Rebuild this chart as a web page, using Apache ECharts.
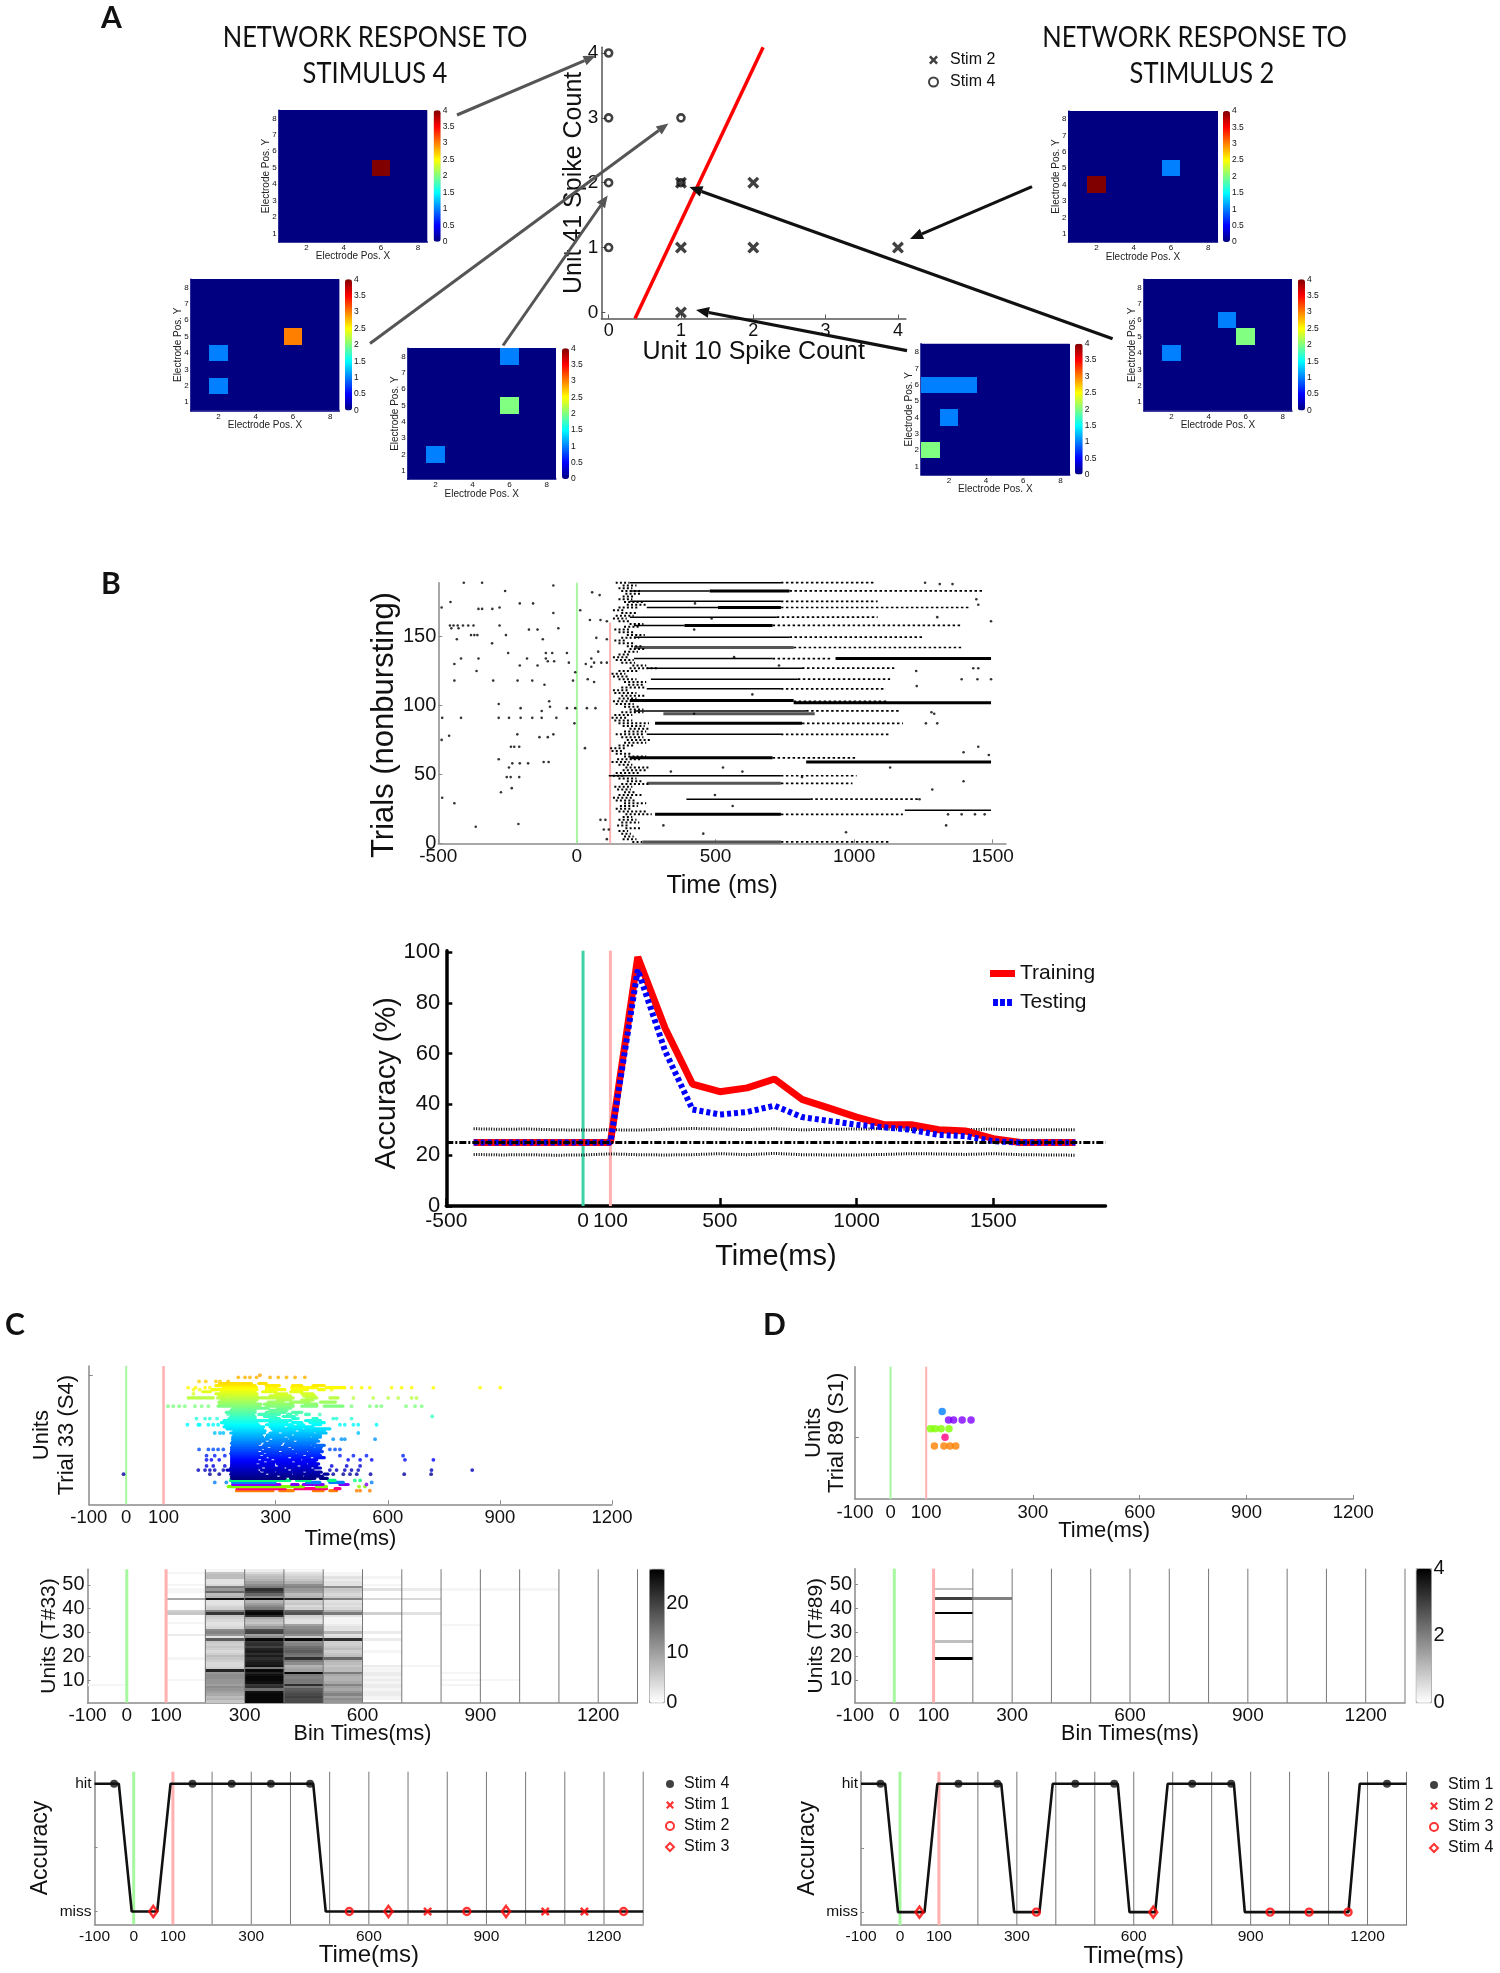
<!DOCTYPE html>
<html><head><meta charset="utf-8">
<script src="https://cdn.jsdelivr.net/npm/echarts@6/dist/echarts.min.js"></script>
<style>html,body{margin:0;padding:0;background:#fff}#c{width:1500px;height:1973px}</style>
</head><body><div id="c"></div>
<script>
// ---------- Panel A data ----------
const scatterStim2 = [[1,2],[2,2],[1,1],[2,1],[4,1],[1,0]];
const scatterStim4 = [[0,4],[0,3],[0,2],[0,1],[1,3],[1,2]];
const boundaryLine = [[0.365,-0.094],[2.136,4.088]];
const heatRows = [8,7,6,5,4,3,2,1];
const hmStim4a = [[0,0,0,0,0,0,0,0],[0,0,0,0,0,0,0,0],[0,0,0,0,0,0,0,0],[0,0,0,0,0,4,0,0],[0,0,0,0,0,0,0,0],[0,0,0,0,0,0,0,0],[0,0,0,0,0,0,0,0],[0,0,0,0,0,0,0,0]];
const hmStim4b = [[0,0,0,0,0,0,0,0],[0,0,0,0,0,0,0,0],[0,0,0,0,0,0,0,0],[0,0,0,0,0,3,0,0],[0,1,0,0,0,0,0,0],[0,0,0,0,0,0,0,0],[0,1,0,0,0,0,0,0],[0,0,0,0,0,0,0,0]];
const hmStim4c = [[0,0,0,0,0,1,0,0],[0,0,0,0,0,0,0,0],[0,0,0,0,0,0,0,0],[0,0,0,0,0,2,0,0],[0,0,0,0,0,0,0,0],[0,0,0,0,0,0,0,0],[0,1,0,0,0,0,0,0],[0,0,0,0,0,0,0,0]];
const hmStim2a = [[0,0,0,0,0,0,0,0],[0,0,0,0,0,0,0,0],[0,0,0,0,0,0,0,0],[0,0,0,0,0,1,0,0],[0,4,0,0,0,0,0,0],[0,0,0,0,0,0,0,0],[0,0,0,0,0,0,0,0],[0,0,0,0,0,0,0,0]];
const hmStim2b = [[0,0,0,0,0,0,0,0],[0,0,0,0,0,0,0,0],[0,0,0,0,1,0,0,0],[0,0,0,0,0,2,0,0],[0,1,0,0,0,0,0,0],[0,0,0,0,0,0,0,0],[0,0,0,0,0,0,0,0],[0,0,0,0,0,0,0,0]];
const hmStim2c = [[0,0,0,0,0,0,0,0],[0,0,0,0,0,0,0,0],[1,1,1,0,0,0,0,0],[0,0,0,0,0,0,0,0],[0,1,0,0,0,0,0,0],[0,0,0,0,0,0,0,0],[2,0,0,0,0,0,0,0],[0,0,0,0,0,0,0,0]];
const colorbarTicks = [0,0.5,1,1.5,2,2.5,3,3.5,4];

// ---------- Panel B raster ----------
const rasterBSparse = [[-408,189],[-342,189],[-85,187],[-259,183],[55,182],[82,180],[-456,175],[-206,174],[-158,174],[-488,171],[-355,170],[-342,170],[-305,170],[-279,171],[12,169],[-85,167],[47,162],[85,162],[108,161],[-458,158],[-445,158],[-430,158],[-411,158],[-392,158],[-373,158],[-279,158],[-453,156],[-427,156],[-67,156],[-173,155],[-142,155],[-382,151],[-370,151],[-359,151],[-256,151],[-433,148],[-123,148],[108,148],[70,149],[-306,145],[-248,138],[77,139],[-112,138],[-89,138],[-36,138],[-418,134],[-355,134],[-180,134],[-112,134],[52,134],[-105,132],[-82,132],[-442,130],[-206,129],[-142,129],[-29,131],[32,130],[62,131],[88,131],[108,131],[-362,125],[-6,124],[52,128],[-442,118],[-302,118],[-214,118],[-161,118],[-14,118],[39,119],[62,117],[-117,115],[-282,101],[-100,103],[-97,99],[-203,98],[-36,98],[-6,98],[36,98],[67,98],[-127,96],[-486,91],[-418,91],[-282,91],[-245,91],[-203,91],[-161,91],[-127,91],[-74,91],[-9,87],[-461,78],[-488,75],[-215,79],[-135,77],[-105,77],[-85,79],[-238,70],[-226,70],[-208,70],[29,69],[-282,61],[-233,58],[-206,58],[-176,58],[-120,59],[-102,59],[-245,55],[-253,48],[-239,48],[-208,48],[-235,40],[-274,37],[-486,33],[-442,29],[-211,14],[-365,12],[85,17],[103,17],[97,10],[115,10],[108,3],
[1256,189],[1309,188],[1355,188],[1448,173],[1441,177],[1494,161],[1300,164],[567,135],[729,129],[1224,125],[1430,127],[1448,127],[1388,119],[1445,119],[1494,119],[1226,114],[633,108],[423,94],[1279,95],[1289,94],[1259,87],[1300,87],[1448,70],[1395,66],[1486,64],[1130,55],[527,55],[597,52],[339,52],[1395,45],[1282,39],[498,35],[1236,32],[562,27],[1339,21],[1388,21],[1436,21],[1471,21],[1332,13],[971,8],[456,7],[312,13],[426,174],[486,163],[423,155],[812,48]];
const rasterBThin = [[189,191,736],[183,191,479],[175.5,191,736],[171,252,509],[164,191,721],[158,206,388],[149.5,206,767],[134,206,706],[127,252,812],[119,267,797],[112,252,736],[96,206,827],[79,252,736],[49,115,736],[32,395,842],[24,1183,1494]];
const rasterBThick = [[183,479,767],[171,509,736],[158,388,706],[134,933,1494],[103.5,191,782],[102,782,1494],[87,282,812],[62,191,706],[59,827,1494],[21,282,736]];
const rasterBGray = [[142,206,782],[94,312,858],[43.5,252,736],[1,236,736]];
const rasterBDotted = [[189,736,1070],[183,767,1464],[175.5,736,1085],[171,736,1418],[164,721,1085],[158,706,1388],[149.5,767,1252],[142,782,1388],[134,706,918],[127,812,1145],[119,797,1130],[112,736,1115],[103,782,1120],[96,827,1161],[87,812,1176],[79,736,1130],[62,706,1009],[49,736,1009],[43.5,736,994],[32,842,1236],[21,736,1176],[1,736,1130]];
const rasterBOnset = [[1,200,235],[3,165,215],[5,170,205],[7,160,195],[9,150,185],[11,175,230],[13,145,190],[15,160,225],[17,150,215],[19,165,200],[21,175,270],[23,150,250],[25,140,195],[27,155,220],[29,170,250],[31,140,210],[33,130,205],[35,150,235],[37,170,215],[39,145,195],[41,135,200],[43,160,260],[45,180,235],[47,150,215],[49,130,175],[51,140,225],[53,165,250],[55,175,260],[57,150,200],[59,125,190],[61,145,230],[63,170,250],[65,140,200],[67,125,170],[69,120,180],[71,150,210],[73,170,250],[75,180,265],[77,160,240],[79,140,240],[81,170,250],[83,190,260],[85,165,245],[87,150,260],[89,135,200],[91,125,185],[93,135,200],[95,160,240],[97,190,240],[99,170,230],[101,140,205],[103,130,195],[105,150,215],[107,160,250],[109,135,215],[111,130,190],[113,160,250],[115,185,245],[117,170,250],[119,150,215],[121,130,190],[123,125,175],[125,150,225],[127,190,290],[129,200,250],[131,160,210],[133,140,205],[135,130,190],[137,150,190],[139,170,220],[141,190,250],[143,180,235],[145,150,205],[147,135,180],[149,160,225],[151,180,245],[153,150,205],[155,135,195],[157,170,230],[159,190,240],[161,150,190],[163,130,180],[165,140,205],[167,160,220],[169,130,175],[171,150,225],[173,180,250],[175,170,240],[177,150,200],[179,165,210],[181,175,235],[183,160,230],[185,150,200],[187,165,215],[189,140,190]];

// ---------- Panel B accuracy ----------
const accTimes = [-400,-300,-200,-100,0,100,200,300,400,500,600,700,800,900,1000,1100,1200,1300,1400,1500,1600,1700,1800];
const accTraining = [25,25,25,25,25,25,98,70,48,45,46.5,50,42,38.5,35,32,32,30,29.5,26.5,25,25,25];
const accTesting = [25,25,25,25,25,25,93,61,38,36,37,39.5,35,33.5,32,31,30,28,27.5,25.5,25,25,25];
const accUpper = [30.4,30.2,30.3,30,29.9,30,29.9,30.2,30.5,30.3,30.1,30.4,30,30.2,30.3,30.4,30.1,30,30.1,30.2,30,30,30];
const accLower = [20.3,20.1,20.2,20,20.1,20.5,20.2,20.1,20.2,20.6,20.2,20.7,20.2,20.1,20.1,20.3,20.6,20.5,20.3,20.6,20.2,20.1,20];
const chanceEnds = [[-500,25],[1910,25]];

// ---------- Panels C/D rasters (x is the position on the drawn axis) ----------
const rasterTickPos = [-100,0,100,400,700,1000,1300];
const rasterTickText = ['-100','0','100','300','600','900','1200'];
const binTickVals = [-100,0,100,300,600,900,1200];
const rasterCRows = [
[1,295,393,411,447,501,527,545,563],[2,297,425,452,483,487,536,559,572],[3,273,443,447,474,509,536],[4,285,411,443,460,474,527,572,594],[5,285,398,483,518,545,581],[6,279,438,456,492,541,559],
[7,282,425,440,505,520,538],[8,282,400,415,470,480,525],[9,280,370,385,440,450,515,530,540],[10,282,355,372,395,405,470,485,522],[11,270,350,362,430,445,500],[12,280,360,375,420,432,492,505,520],[13,282,395,410,455,470,510],[14,282,345,360,395,405,480,490,515],[15,282,365,380,440,455,505],[16,282,350,365,385,400,465,475,510],[17,282,372,385,430,445,490,505,530],[18,282,355,370,410,418,470,485,520],[19,280,365,378,450,460,515],[20,282,350,365,405,420,480,490,525],[21,282,360,372,440,452,520],[22,282,375,390,430,445,500,510,522],[23,285,350,368,410,425,490,500,530],[24,282,358,372,415,428,505],[25,285,370,385,445,460,515],[26,285,380,395,430,440,510],[27,285,365,375,420,435,490,500,520],[28,288,362,378,440,452,520],[29,280,370,385,405,420,500,510,535],[30,288,372,395,450,465,530],[31,270,365,390,470,480,545],[32,262,368,385,420,435,500],[33,265,355,375,445,460,475,500,520],[34,255,350,385,430,445,470,492,530],[35,262,340,345,398,405,440,480,520],[36,275,345,385,410,447,455,501,510],[37,280,345,370,400,420,450],[38,282,340,355,410,432,440,480,490],[39,268,345,375,425,445,470],[40,280,345,385,430],[41,285,345,350,380,405,440],[42,246,358,375,447,470,510,530,580],[43,250,360,370,445,480,510],[44,248,345,380,420,440,490,520,560],[45,255,350,405,440,470,500],[46,166,233,245,268,277,447,482,510,545,567],[47,250,350,385,440,475,505],[48,240,350,400,430,470,500],[49,205,225,255,345,365,400,440,470],[50,230,350,375,425,445,485,515,530],[51,260,349,376,403,443,456,465,510,536,585],[52,240,345,375,410,445,470,500,530],[53,250,335,355,375]];
const rasterCSparse = [[358,57],[300,56],[318,56],[331,56],[349,56],[385,56],[407,56],[429,56],[452,56],[478,56],[195,54],[213,54],[240,54],[251,54],[273,54],[166,51],[186,51],[211,51],[224,51],[603,51],[630,51],[652,51],[710,51],[737,51],[764,51],[822,51],[947,51],[1001,51],[180,50],[197,50],[233,50],[550,50],[608,46],[661,46],[701,46],[728,46],[764,46],[777,46],[180,48],[112,42],[126,42],[142,42],[157,42],[184,42],[202,42],[220,42],[603,42],[652,42],[670,42],[683,42],[749,42],[773,42],[791,42],[273,38],[518,38],[483,38],[456,38],[434,38],[819,37],[188,36],[211,36],[224,36],[243,36],[447,36],[460,36],[501,36],[510,36],[554,36],[563,36],[603,36],[164,33],[193,33],[197,33],[220,33],[233,33],[246,33],[572,33],[585,33],[608,33],[621,33],[670,33],[237,29],[251,29],[260,29],[621,29],[554,26],[576,26],[585,26],[666,26],[195,21],[220,21],[233,21],[246,21],[260,21],[545,21],[559,21],[572,21],[643,18],[741,18],[215,18],[237,18],[264,18],[572,18],[608,18],[215,16],[228,16],[249,16],[746,16],[594,16],[626,16],[657,16],[822,16],[215,13],[233,13],[264,13],[550,13],[590,13],[626,13],[193,11],[211,11],[224,11],[237,11],[260,11],[545,11],[563,11],[585,11],[603,11],[621,11],[817,11],[926,11],[224,9],[249,9],[554,9],[581,9],[599,9],[617,9],[654,9],[744,9],[816,9],[-7,9],[617,1],[626,1],[652,1],[623,3],[639,3],[643,4],[237,5],[268,5],[657,5],[612,6],[626,6]];
const rasterDPoints = [[145,5],[163,4],[177,4],[201,4],[226,4],[112,3],[125,3],[142,3],[164,3],[153,2],[123,1],[150,1],[167,1],[183,1]];
const bottomRowColors = {1:'#ff8000',2:'#ff0080',3:'#80ff00',4:'#8000ff',5:'#0080ff',6:'#00ff80'};
const rasterDRowColors = {1:'#ff8000',2:'#ff0080',3:'#80ff00',4:'#8000ff',5:'#0080ff'};

// ---------- Panels C/D binned counts ----------
const binStartsDense = [200,300,400,500];
const heatCBin200 = [6,8,7,9,10,11,12,10,11,11,12,12,11,23,5,4,4,5,6,7,5,4,5,6,5,6,17,3,11,13,12,4,3,3,4,5,6,21,13,5,4,3,3,25,8,7,16,11,14,4,3,3,7,7,6,1];
const heatCBin300 = [26,26,26,26,25,15,22,21,25,26,26,25,23,26,14,25,24,23,22,24,22,24,23,20,22,21,26,12,10,20,19,11,8,6,7,9,22,26,24,14,12,10,8,26,12,16,20,22,14,12,10,8,7,6,4,2];
const heatCBin400 = [19,19,20,19,18,17,14,22,14,14,13,14,26,10,9,8,12,14,22,14,15,17,16,15,13,12,26,6,12,14,13,12,10,3,3,4,5,18,16,5,4,6,5,22,8,7,10,11,13,12,8,6,5,4,3,1];
const heatCBin500 = [11,12,10,13,11,9,10,13,9,8,8,9,14,7,7,6,7,8,16,7,6,5,7,6,5,5,22,4,3,8,3,3,2,1,1,1,3,14,8,4,3,4,3,13,5,4,5,6,12,3,3,2,3,1,1,0];
const heatCSparse = [[-100,8,1],[100,44,9],[100,38,6],[100,39,5],[100,48,1],[100,47,1],[100,29,2],[100,34,1],[100,19,1],[100,10,1],[100,55,1],[100,50,1],[600,2,1],[600,3,1],[600,4,2],[600,5,2],[600,6,1],[600,7,2],[600,8,2],[600,9,1],[600,10,2],[600,11,1],[600,12,2],[600,13,2],[600,14,1],[600,15,1],[600,16,2],[600,22,1],[600,27,2],[600,30,2],[600,38,5],[600,44,4],[600,48,3],[600,50,1],[600,53,1],[700,44,4],[700,38,3],[700,48,2],[700,16,1],[800,33,1],[800,13,1],[800,10,1],[800,8,1],[800,48,1],[900,10,1],[900,48,1],[1000,48,1]];
const heatDCells = [[100,48,1],[100,44,3],[200,44,2],[100,38,4],[100,26,1],[100,19,4]];
const binEdges = [200,300,400,500,600,700,800,900,1000,1100,1200,1300];

// ---------- Panels C/D trial decoding ----------
const pathC = [[-100,1],[-38,1],[-5,0],[60,0],[94,1],[458,1],[490,0],[1300,0]];
const cStim4 = [[-50,1],[150,1],[250,1],[350,1],[450,1]];
const cStim1 = [[750,0],[1050,0],[1150,0]];
const cStim2 = [[550,0],[850,0],[1250,0]];
const cStim3 = [[50,0],[650,0],[950,0]];
const pathD = [[-100,1],[-38,1],[-5,0],[63,0],[96,1],[260,1],[293,0],[358,0],[392,1],[559,1],[589,0],[655,0],[687,1],[857,1],[885,0],[1151,0],[1180,1],[1300,1]];
const dStim1 = [[-50,1],[150,1],[250,1],[450,1],[550,1],[750,1],[850,1],[1250,1]];
const dStim2 = [];
const dStim3 = [[350,0],[950,0],[1050,0],[1150,0]];
const dStim4 = [[50,0],[650,0]];

// ---------- styling helpers ----------
const FONT='"Liberation Sans",Arial,sans-serif';
const JET=['#000080','#0000ff','#0080ff','#00ffff','#80ff80','#ffff00','#ff8000','#ff0000','#800000'];
const GREEN='#a6f7a0', PINK='#ffb0b0', GRAYAX='#8a8a8a';
const XMARK='path://M2 0L5 3L8 0L10 2L7 5L10 8L8 10L5 7L2 10L0 8L3 5L0 2Z';
function hex(c){return [1,3,5].map(i=>parseInt(c.substr(i,2),16));}
function jet(t){t=Math.max(0,Math.min(1,t))*(JET.length-1);const i=Math.min(JET.length-2,Math.floor(t)),f=t-i,a=hex(JET[i]),b=hex(JET[i+1]);return 'rgb('+a.map((v,k)=>Math.round(v+(b[k]-v)*f)).join(',')+')';}
const rowColor=r=>bottomRowColors[r]||jet((r-7)/70);

const grids=[],xAxes=[],yAxes=[],series=[],visualMaps=[],legends=[],graphics=[];
function axis(o,labelSize,color){
  const a=Object.assign({type:'value',splitLine:{show:false},nameMoveOverlap:false,axisLine:{show:true,onZero:false,lineStyle:{color:color||GRAYAX,width:1.5}},
    axisTick:{show:true,inside:true,length:4,lineStyle:{color:color||GRAYAX}},
    axisLabel:{fontFamily:FONT,fontSize:labelSize,color:'#111',margin:4,hideOverlap:false,showMinLabel:true,showMaxLabel:true,formatter:v=>String(v)},
    nameLocation:'middle',nameTextStyle:{fontFamily:FONT,color:'#111'}},o);
  return a;
}
function withTicks(a,vals,fmt){
  a.axisTick.customValues=vals;a.axisLabel.customValues=vals;
  if(fmt)a.axisLabel.formatter=fmt;return a;
}
function addGrid(l,t,r,b,x,y,extra){
  const i=grids.length;
  grids.push(Object.assign({left:l,top:t,width:r-l,height:b-t,show:false,containLabel:false},extra||{}));
  x.gridIndex=i;y.gridIndex=i;xAxes.push(x);yAxes.push(y);return i;
}
function vlines(g,vals,color,width,z,topVal){
  series.push({type:'custom',xAxisIndex:g,yAxisIndex:g,silent:true,z:z,data:vals.map(v=>[v]),encode:{x:0},
    renderItem:(p,api)=>{const x=api.coord([api.value(0),0])[0],cs=p.coordSys;
      const yt=topVal!=null?api.coord([0,topVal])[1]:cs.y;
      return {type:'line',shape:{x1:x,y1:yt,x2:x,y2:cs.y+cs.height},style:{stroke:color,lineWidth:width}};}});
}
function hruns(g,rows,color,width,dash,z){
  series.push({type:'custom',xAxisIndex:g,yAxisIndex:g,silent:true,z:z||3,data:rows,encode:{x:[1,2],y:0},
    renderItem:(p,api)=>{const y=api.value(0),a=api.coord([api.value(1),y]),b=api.coord([api.value(2),y]);
      return {type:'line',shape:{x1:a[0],y1:a[1],x2:b[0],y2:b[1]},style:{stroke:color,lineWidth:width,lineDash:dash||null}};}});
}
function cells(g,data,x0,x1,z){
  series.push({type:'custom',xAxisIndex:g,yAxisIndex:g,silent:true,z:z||2,data:data,encode:{x:0,y:1},
    renderItem:(p,api)=>{const v0=api.value(0),r=api.value(1),a=api.coord([v0+x0,r+.5]),b=api.coord([v0+x1,r-.5]);
      const X=Math.round(a[0]),Y=Math.round(a[1]);
      return {type:'rect',shape:{x:X,y:Y,width:Math.round(b[0])-X,height:Math.round(b[1])-Y},style:{fill:api.visual('color')}};}});
  return series.length-1;
}
function colorbar(l,r,t,b,max,ticks,colors,seriesIndex,fs,border){
  visualMaps.push({type:'continuous',show:true,left:l,top:t,itemWidth:r-l,itemHeight:b-t,min:0,max:max,padding:0,text:null,
    calculable:false,showLabel:false,realtime:false,hoverLink:false,seriesIndex:seriesIndex,dimension:2,inRange:{color:colors}});
  const x=axis({show:false,min:0,max:1},8),y=axis({min:0,max:max,position:'right'},fs);
  y.axisLine.show=false;y.axisTick.show=false;y.axisLabel.margin=2;y.axisLabel.customValues=ticks;y.axisTick.customValues=ticks;
  addGrid(l,t,r,b,x,y,border?{show:true,borderColor:'#999',borderWidth:1,backgroundColor:'transparent'}:{});
}
function electrodeMap(l,t,r,b,cbl,cbr,matrix){
  const x=withTicks(axis({min:.5,max:8.5,name:'Electrode Pos. X',nameGap:10,nameTextStyle:{fontFamily:FONT,fontSize:10,color:'#222'}},8,'#00007f'),[2,4,6,8]);
  const y=withTicks(axis({min:.5,max:8.5,name:'Electrode Pos. Y',nameGap:7,nameTextStyle:{fontFamily:FONT,fontSize:10,color:'#222'}},8,'#00007f'),[1,2,3,4,5,6,7,8]);
  x.axisLabel.margin=2;y.axisLabel.margin=2;x.axisTick.show=false;y.axisTick.show=false;
  const g=addGrid(l,t,r,b,x,y,{show:true,backgroundColor:'#000080',borderWidth:0});
  const data=[];matrix.forEach((row,i)=>row.forEach((v,j)=>{data.push([j+1,heatRows[i],v]);}));
  const s=cells(g,data,-.5,.5,2);
  colorbar(cbl,cbr,t,b,4,colorbarTicks,JET,s,8.5,false);
}
function arrow(x1,y1,x2,y2,color,w,h){
  const d=Math.hypot(x2-x1,y2-y1),ux=(x2-x1)/d,uy=(y2-y1)/d,hl=h||12,hw=(h||12)*.42;
  const bx=x2-ux*hl,by=y2-uy*hl;
  graphics.push({type:'line',z:60,silent:true,shape:{x1:x1,y1:y1,x2:bx,y2:by},style:{stroke:color,lineWidth:w}});
  graphics.push({type:'polygon',z:60,silent:true,shape:{points:[[x2,y2],[bx-uy*hw,by+ux*hw],[bx+uy*hw,by-ux*hw]]},style:{fill:color}});
}
function text(x,y,s,font,fill,align,sy){
  graphics.push({type:'text',x:x,y:y,z:70,silent:true,scaleY:sy||1,style:{text:s,font:font,fill:fill||'#111',textAlign:align||'center',textVerticalAlign:'middle'}});
}
function stimLegend(left,top,names){
  legends.push({data:names,left:left,top:top,orient:'vertical',itemWidth:8,itemHeight:8,itemGap:5,padding:0,selectedMode:false,
    textStyle:{fontFamily:FONT,fontSize:16,color:'#111',padding:[0,0,0,5]},formatter:n=>n.trim()});
}
function marker(g,name,data,kind){
  const base={type:'scatter',name:name,xAxisIndex:g,yAxisIndex:g,data:data,z:6,silent:true};
  if(kind==='dot')Object.assign(base,{symbol:'circle',symbolSize:8,itemStyle:{color:'#111'}});
  if(kind==='x')Object.assign(base,{symbol:XMARK,symbolSize:9,itemStyle:{color:'#f00'}});
  if(kind==='o')Object.assign(base,{symbol:'circle',symbolSize:7,itemStyle:{color:'rgba(0,0,0,0)',borderColor:'#f00',borderWidth:2.4}});
  if(kind==='d')Object.assign(base,{symbol:'diamond',symbolSize:[8,11],itemStyle:{color:'rgba(0,0,0,0)',borderColor:'#f00',borderWidth:2.6}});
  series.push(base);
}

// ---------- Panel A ----------
{
  const x=withTicks(axis({min:-0.1,max:4.11,name:'Unit 10 Spike Count',nameGap:21,nameTextStyle:{fontFamily:FONT,fontSize:25,color:'#111'}},18,'#555'),[0,1,2,3,4]);
  const y=withTicks(axis({min:-0.094,max:4.088,name:'Unit 41 Spike Count',nameGap:15,nameTextStyle:{fontFamily:FONT,fontSize:25,color:'#111'}},19,'#555'),[0,1,2,3,4]);
  y.axisLabel.margin=3;x.axisLabel.margin=4;
  const g=addGrid(601.4,47.3,905.9,318.5,x,y);
  series.push({type:'line',name:'boundary',xAxisIndex:g,yAxisIndex:g,data:boundaryLine,symbol:'none',itemStyle:{color:'#f00'},lineStyle:{color:'#f00',width:3.5},z:3,silent:true});
  series.push({type:'scatter',name:'Stim 2',xAxisIndex:g,yAxisIndex:g,data:scatterStim2,symbol:XMARK,symbolSize:12,itemStyle:{color:'#111'},z:5,silent:true,clip:false});
  series.push({type:'scatter',name:'Stim 4',xAxisIndex:g,yAxisIndex:g,data:scatterStim4,symbol:'circle',symbolSize:7,itemStyle:{color:'rgba(0,0,0,0)',borderColor:'#111',borderWidth:2.6},z:5,silent:true,clip:false});
  legends.push({data:['Stim 2','Stim 4'],left:928,top:52,orient:'vertical',itemWidth:9,itemHeight:9,itemGap:6,padding:0,selectedMode:false,textStyle:{fontFamily:FONT,fontSize:16,color:'#111',padding:[0,0,0,7]}});
}
electrodeMap(278.7,110.2,427.3,241.7,433.6,440.7,hmStim4a);
electrodeMap(190.7,279.2,339.4,410.4,345,352,hmStim4b);
electrodeMap(407.7,348.2,555.9,479,562,569,hmStim4c);
electrodeMap(1068.4,110.9,1217.5,242,1222.9,1230,hmStim2a);
electrodeMap(1143.8,279.2,1292,410.4,1297.9,1305,hmStim2b);
electrodeMap(921,343.8,1069.7,474.6,1075,1082.7,hmStim2c);
arrow(457,115,595.6,55.8,'#555',3);
arrow(370,343.5,668.4,123.4,'#555',3);
arrow(503,345.5,607.7,195.4,'#555',3);
arrow(1112.6,338.7,689.4,187,'#111',3.2,13);
arrow(907,350.6,696,310,'#111',3.2,13);
arrow(1032,186.6,910,239,'#111',3.2,13);
const TITLEFONT='25.5px Lato,"Open Sans",sans-serif';
text(375,37.2,'NETWORK RESPONSE TO',TITLEFONT,'#111','center',1.15);text(375,73.7,'STIMULUS 4',TITLEFONT,'#111','center',1.15);
text(1194.6,37.2,'NETWORK RESPONSE TO',TITLEFONT,'#111','center',1.15);text(1202,73.7,'STIMULUS 2',TITLEFONT,'#111','center',1.15);
const LETTER='bold 30px Lato,"Open Sans",sans-serif';
text(101,18.6,'A',LETTER,'#111','left');text(101,584,'B',LETTER,'#111','left');text(5,1325,'C',LETTER,'#111','left');text(763,1325,'D',LETTER,'#111','left');

// ---------- Panel B raster ----------
{
  const x=withTicks(axis({min:-500,max:1548,name:'Time (ms)',nameGap:30,nameTextStyle:{fontFamily:FONT,fontSize:25,color:'#111'}},19),[-500,0,500,1000,1500]);
  const y=withTicks(axis({min:0,max:189,name:'Trials (nonbursting)',nameGap:38,nameTextStyle:{fontFamily:FONT,fontSize:31,color:'#111',padding:[0,24,0,0]}},20),[0,50,100,150]);
  y.axisLabel.margin=2;
  const g=addGrid(438.3,582.7,1006,843.3,x,y);
  vlines(g,[0],GREEN,2,2);vlines(g,[120],PINK,2,2,160);
  hruns(g,rasterBThin,'#000',1.5);
  hruns(g,rasterBThick,'#000',3);
  hruns(g,rasterBGray,'#555',3);
  hruns(g,rasterBDotted,'#000',1.7,[2.5,2.5]);
  hruns(g,rasterBOnset,'#000',2,[2,2.2]);
  series.push({type:'scatter',xAxisIndex:g,yAxisIndex:g,data:rasterBSparse,symbol:'circle',symbolSize:2.6,itemStyle:{color:'#000'},z:4,silent:true});
}
// ---------- Panel B accuracy ----------
{
  const x=withTicks(axis({min:-500,max:1910,name:'Time(ms)',nameGap:36,nameTextStyle:{fontFamily:FONT,fontSize:29,color:'#111'}},21,'#000'),[-500,0,100,500,1000,1500]);
  const y=withTicks(axis({min:0,max:100.5,name:'Accuracy (%)',nameGap:45,nameTextStyle:{fontFamily:FONT,fontSize:29,color:'#111',padding:[0,10,0,0]}},22,'#000'),[0,20,40,60,80,100]);
  x.axisLine.lineStyle.width=3.5;y.axisLine.lineStyle.width=3.5;
  x.axisTick.length=8;y.axisTick.length=6;x.axisTick.lineStyle.width=2.5;y.axisTick.lineStyle.width=2.5;
  x.axisLabel.margin=5;y.axisLabel.margin=6;
  x.axisTick.customValues=[-500,500,1000,1500];
  const g=addGrid(446.3,950.7,1105.5,1206,x,y);
  vlines(g,[0],'#40d0a8',3,2);vlines(g,[100],PINK,3,2);
  const pair=a=>accTimes.map((t,i)=>[t,a[i]]);
  series.push({type:'line',name:'upper',xAxisIndex:g,yAxisIndex:g,data:pair(accUpper),symbol:'none',lineStyle:{color:'#000',width:3,type:[1,1.5]},z:3,silent:true});
  series.push({type:'line',name:'lower',xAxisIndex:g,yAxisIndex:g,data:pair(accLower),symbol:'none',lineStyle:{color:'#000',width:3,type:[1,1.5]},z:3,silent:true});
  series.push({type:'line',name:'Training',xAxisIndex:g,yAxisIndex:g,data:pair(accTraining),symbol:'none',itemStyle:{color:'#f00'},lineStyle:{color:'#f00',width:7},z:4,silent:true});
  series.push({type:'line',name:'Testing',xAxisIndex:g,yAxisIndex:g,data:pair(accTesting),symbol:'none',itemStyle:{color:'#00f'},lineStyle:{color:'#00f',width:6,type:[4,3]},z:5,silent:true});
  series.push({type:'line',name:'chance',xAxisIndex:g,yAxisIndex:g,data:chanceEnds,symbol:'none',lineStyle:{color:'#000',width:3,type:[7,2,2,2]},z:6,silent:true});
  legends.push({data:[{name:'Training',icon:'rect'},{name:'Testing',icon:'path://M0 0H7V10H0ZM10 0H17V10H10ZM20 0H27V10H20Z'}],left:990,top:963,orient:'vertical',itemWidth:25,itemHeight:7,itemGap:8,padding:0,selectedMode:false,textStyle:{fontFamily:FONT,fontSize:21,color:'#111',padding:[0,0,0,0]}});
}

// ---------- Panel C ----------
function rasterAxes(name2,left,right,top,bottom,ymin,ymax,yTick,nameGapY,timeGap,lh){
  const x=withTicks(axis({min:-100,max:1300,name:'Time(ms)',nameGap:timeGap,nameTextStyle:{fontFamily:FONT,fontSize:22,color:'#111'}},18.5),rasterTickPos,v=>rasterTickText[rasterTickPos.indexOf(v)]);
  const y=withTicks(axis({min:ymin,max:ymax,name:'Units\n'+name2,nameGap:nameGapY,nameTextStyle:{fontFamily:FONT,fontSize:22,lineHeight:lh,color:'#111'}},8),[yTick],()=>'');
  x.axisTick.customValues=[400,700,1000,1300];
  return addGrid(left,top,right,bottom,x,y);
}
function binAxes(name2,left,right,top,bottom){
  const x=withTicks(axis({min:-100,max:1300,name:'Bin Times(ms)',nameGap:20,nameTextStyle:{fontFamily:FONT,fontSize:21.5,color:'#111'}},19),binTickVals);
  const y=withTicks(axis({min:.5,max:56.5,name:name2,nameGap:28,nameTextStyle:{fontFamily:FONT,fontSize:21,color:'#111'}},20),[10,20,30,40,50]);
  x.axisTick.show=false;y.axisTick.length=3;y.axisLabel.margin=3;
  return addGrid(left,top,right,bottom,x,y);
}
function accAxes(left,right,top,bottom){
  const x=withTicks(axis({min:-100,max:1300,name:'Time(ms)',nameGap:19.5,nameTextStyle:{fontFamily:FONT,fontSize:24,color:'#111'}},15.5),binTickVals);
  const y=withTicks(axis({min:-0.1,max:1.094,name:'Accuracy',nameGap:42,nameTextStyle:{fontFamily:FONT,fontSize:23,color:'#111'}},15.5),[0,0.5,1],v=>v===1?'hit':v===0?'miss':'');
  x.axisTick.show=false;y.axisTick.length=3;y.axisLabel.margin=3;
  return addGrid(left,top,right,bottom,x,y);
}
{
  const g=rasterAxes('Trial 33 (S4)',88.8,612,1366,1504.3,-5.6,61.5,57,9,23.5,25);
  vlines(g,[0],GREEN,2,2);vlines(g,[100],PINK,2.5,2);
  const runs=[];rasterCRows.forEach(r=>{for(let i=1;i<r.length;i+=2)runs.push([r[0],r[i],r[i+1]]);});
  series.push({type:'custom',xAxisIndex:g,yAxisIndex:g,silent:true,z:3,data:runs,encode:{x:[1,2],y:0},
    renderItem:(p,api)=>{const r=api.value(0),a=api.coord([api.value(1),r]),b=api.coord([api.value(2),r]);
      return {type:'line',shape:{x1:a[0],y1:a[1],x2:b[0],y2:b[1]},style:{stroke:rowColor(r),lineWidth:3.2,lineCap:'round'}};}});
  series.push({type:'scatter',xAxisIndex:g,yAxisIndex:g,data:rasterCSparse,symbol:'circle',symbolSize:3.8,itemStyle:{color:p=>rowColor(p.value[1])},z:4,silent:true});
}
{
  const g=binAxes('Units (T#33)',87.5,637.5,1569.3,1702.7);
  const data=heatCSparse.slice();
  [heatCBin200,heatCBin300,heatCBin400,heatCBin500].forEach((col,k)=>col.forEach((v,i)=>{if(v>0)data.push([binStartsDense[k],i+1,v]);}));
  const s=cells(g,data,0,100,2);
  vlines(g,binEdges,'#777',1,4);vlines(g,[0],GREEN,3,5);vlines(g,[100],PINK,3,5);
  colorbar(649.5,664.3,1569.3,1702.7,26.8,[0,10,20],['#ffffff','#000000'],s,20,true);
}
{
  const g=accAxes(94.5,643.2,1771.7,1924.3);
  vlines(g,binEdges,'#777',1,2);vlines(g,[0],GREEN,3,2);vlines(g,[100],PINK,3,2);
  series.push({type:'line',name:'pathC',xAxisIndex:g,yAxisIndex:g,data:pathC,symbol:'none',lineStyle:{color:'#111',width:2.6},z:4,silent:true});
  marker(g,'Stim 4 ',cStim4,'dot');marker(g,'Stim 1 ',cStim1,'x');marker(g,'Stim 2 ',cStim2,'o');marker(g,'Stim 3 ',cStim3,'d');
  stimLegend(665,1776,['Stim 4 ','Stim 1 ','Stim 2 ','Stim 3 ']);
}
// ---------- Panel D ----------
{
  const g=rasterAxes('Trial 89 (S1)',855,1353.3,1366.7,1499,-5.17,10.2,2,7,21,23);
  vlines(g,[0],GREEN,2,2);vlines(g,[100],PINK,2,2);
  series.push({type:'scatter',xAxisIndex:g,yAxisIndex:g,data:rasterDPoints,symbol:'circle',symbolSize:7.5,itemStyle:{color:p=>rasterDRowColors[p.value[1]]},z:4,silent:true});
}
{
  const g=binAxes('Units (T#89)',855,1405,1568.7,1702.7);
  const s=cells(g,heatDCells,0,100,2);
  vlines(g,binEdges,'#777',1,4);vlines(g,[0],GREEN,3,5);vlines(g,[100],PINK,3,5);
  colorbar(1416.3,1431.4,1568.7,1702.7,4,[0,2,4],['#ffffff','#000000'],s,20,true);
}
{
  const g=accAxes(861,1406.5,1771.7,1925);
  vlines(g,binEdges,'#777',1,2);vlines(g,[0],GREEN,3,2);vlines(g,[100],PINK,3,2);
  series.push({type:'line',name:'pathD',xAxisIndex:g,yAxisIndex:g,data:pathD,symbol:'none',lineStyle:{color:'#111',width:2.6},z:4,silent:true});
  marker(g,'Stim 1  ',dStim1,'dot');marker(g,'Stim 2  ',dStim2,'x');marker(g,'Stim 3  ',dStim3,'o');marker(g,'Stim 4  ',dStim4,'d');
  stimLegend(1429,1777,['Stim 1  ','Stim 2  ','Stim 3  ','Stim 4  ']);
}

const chart=echarts.init(document.getElementById('c'),null,{renderer:'canvas'});
chart.setOption({animation:false,backgroundColor:'#fff',textStyle:{fontFamily:FONT},tooltip:{show:false},
  grid:grids,xAxis:xAxes,yAxis:yAxes,series:series,visualMap:visualMaps,legend:legends,graphic:{elements:graphics}});
</script></body></html>
